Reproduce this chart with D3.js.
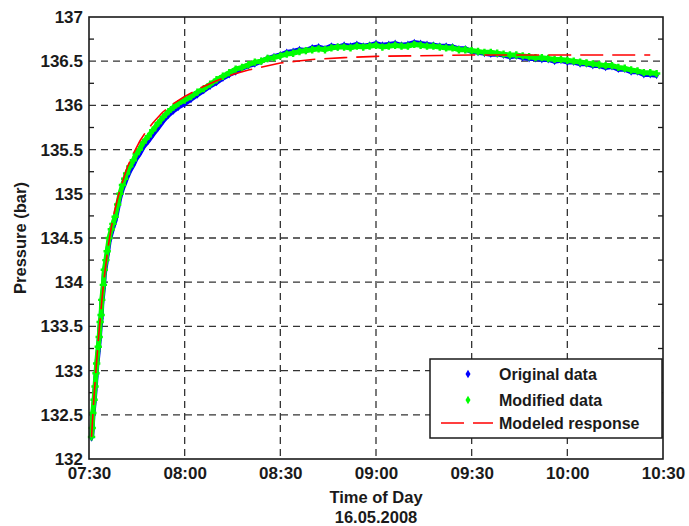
<!DOCTYPE html>
<html>
<head>
<meta charset="utf-8">
<script src="https://cdn.jsdelivr.net/npm/d3@7"></script>
<style>
  html, body { margin: 0; padding: 0; background: #fff; }
  svg { display: block; font-family: "Liberation Sans", Arial, sans-serif; }
</style>
</head>
<body>
<svg id="chart" width="689" height="526"></svg>
<script>
// ---- data (minutes after 07:30 on 16.05.2008) ----
const startTime = "2008-05-16T07:30:00";
const dataMinutes = [0.8,1.0,1.2,1.6,1.9,2.2,2.4,2.9,3.2,3.5,3.8,4.0,4.5,4.8,5.3,5.7,6.3,7.0,7.5,8.2,9.0,9.7,10.5,11.2,11.8,12.8,13.9,14.8,15.8,17.0,18.6,20.0,21.7,23.3,24.9,26.5,28.0,30,32,34,36,38,
  40,42,44,46,48,50,52,54,56,58,60,62,64,66,68,70,72,74,76,78,80,82,84,86,88,90,92,94,96,98,100,102,104,106,108,110,112,114,116,118,120,122,124,126,128,130,132,134,136,138,140,142,144,146,148,150,152,154,156,158,160,162,164,166,168,170,172,174,176,178];
const originalData = [132.24,132.33,132.49,132.64,132.78,132.93,133.04,133.22,133.34,133.50,133.59,133.75,133.93,134.09,134.21,134.31,134.46,134.56,134.62,134.70,134.84,134.96,135.06,135.12,135.18,135.26,135.33,135.40,135.45,135.53,135.60,135.67,135.75,135.83,135.89,135.94,135.98,136.02,136.07,136.12,136.17,136.22,
  136.26,136.31,136.35,136.38,136.42,136.45,136.47,136.50,136.53,136.55,136.57,136.60,136.61,136.63,136.62,136.65,136.66,136.64,136.67,136.66,136.68,136.67,136.69,136.67,136.68,136.70,136.68,136.69,136.70,136.68,136.69,136.71,136.70,136.69,136.68,136.67,136.67,136.66,136.64,136.64,136.61,136.60,136.59,136.58,136.58,136.57,136.55,136.56,136.54,136.53,136.53,136.52,136.52,136.50,136.51,136.49,136.49,136.47,136.47,136.45,136.45,136.43,136.44,136.41,136.41,136.38,136.38,136.35,136.35,136.34];
const modifiedData = [132.25,132.35,132.52,132.67,132.82,132.97,133.08,133.27,133.38,133.55,133.63,133.80,133.97,134.14,134.25,134.35,134.50,134.60,134.66,134.74,134.88,135.00,135.10,135.17,135.23,135.31,135.38,135.45,135.50,135.58,135.65,135.72,135.80,135.87,135.93,135.98,136.02,136.06,136.10,136.15,136.19,136.24,
  136.29,136.33,136.37,136.41,136.43,136.46,136.49,136.50,136.53,136.54,136.56,136.58,136.59,136.61,136.62,136.63,136.64,136.63,136.65,136.66,136.66,136.65,136.67,136.66,136.67,136.68,136.66,136.67,136.68,136.67,136.67,136.69,136.68,136.67,136.67,136.66,136.65,136.65,136.63,136.63,136.62,136.61,136.60,136.60,136.59,136.58,136.57,136.57,136.56,136.55,136.54,136.54,136.53,136.52,136.52,136.51,136.50,136.49,136.48,136.47,136.46,136.45,136.45,136.43,136.42,136.40,136.39,136.37,136.37,136.36];
const modelMinutes = [0.8,1.2,1.6,2,2.5,3,3.5,4,4.5,5,6,7,8,9,10,12,14,16,18,20,23,26,30,35,40,45,50,55,60,65,70,80,90,100,110,120,135,150,165,176];
const modelValues = [132.25,132.5,132.72,132.92,133.15,133.38,133.58,133.78,133.96,134.12,134.4,134.62,134.8,134.95,135.08,135.3,135.46,135.6,135.71,135.8,135.92,136.01,136.1,136.2,136.28,136.35,136.4,136.44,136.48,136.5,136.52,136.54,136.555,136.56,136.565,136.57,136.57,136.57,136.57,136.57];
const xTickLabels = ["07:30","08:00","08:30","09:00","09:30","10:00","10:30"];
const yTickValues = [132,132.5,133,133.5,134,134.5,135,135.5,136,136.5,137];
const yMinorTicks = [132.25,132.75,133.25,133.75,134.25,134.75,135.25,135.75,136.25,136.75];
const legendLabels = ["Original data","Modified data","Modeled response"];

// ---- layout ----
const svg = d3.select("#chart");
const L = 89, R = 663, T = 17, B = 459;
const base = new Date(startTime);
const toDate = m => new Date(base.getTime() + m * 60000);
const fmt = d3.timeFormat("%H:%M");
const x = d3.scaleTime().domain([toDate(0), toDate(180)]).range([L, R]);
const y = d3.scaleLinear().domain([132, 137]).range([B, T]);
const xTicks = xTickLabels.map(s => { const [h, m] = s.split(":").map(Number); return toDate((h - 7) * 60 + m - 30); });

const ink = "#1a1a1a";
// grid
const grid = svg.append("g");
grid.selectAll("line.vx").data(xTicks.slice(1, -1)).join("line")
  .attr("x1", d => x(d)).attr("x2", d => x(d)).attr("y1", T).attr("y2", B)
  .attr("stroke", "#333").attr("stroke-width", 1.3).attr("stroke-dasharray", "7,5");
grid.selectAll("line.hy").data(yTickValues.slice(1, -1)).join("line")
  .attr("x1", L).attr("x2", R).attr("y1", d => y(d)).attr("y2", d => y(d))
  .attr("stroke", "#333").attr("stroke-width", 1.3).attr("stroke-dasharray", "7,5");

// minor y ticks left & right
const mt = svg.append("g").attr("stroke", ink).attr("stroke-width", 1.3);
mt.selectAll("line.l").data(yMinorTicks).join("line").attr("x1", L).attr("x2", L + 5).attr("y1", d => y(d)).attr("y2", d => y(d));
mt.selectAll("line.r").data(yMinorTicks).join("line").attr("x1", R).attr("x2", R - 5).attr("y1", d => y(d)).attr("y2", d => y(d));

const orig = dataMinutes.map((m, i) => ({ t: toDate(m), v: originalData[i] }));
const modi = dataMinutes.map((m, i) => ({ t: toDate(m), v: modifiedData[i] }));
const model = modelMinutes.map((m, i) => ({ t: toDate(m), v: modelValues[i] }));
const line = d3.line().x(d => x(d.t)).y(d => y(d.v));

// original (blue)
svg.append("path").datum(orig).attr("d", line).attr("fill", "none").attr("stroke", "#0000ff").attr("stroke-width", 5);
svg.append("g").selectAll("path").data(orig).join("path")
  .attr("transform", d => `translate(${x(d.t)},${y(d.v)})`)
  .attr("d", d3.symbol(d3.symbolDiamond, 18)).attr("fill", "#0000ff");
// modified (green)
svg.append("path").datum(modi).attr("d", line).attr("fill", "none").attr("stroke", "#00ff00").attr("stroke-width", 5);
svg.append("g").selectAll("path").data(modi).join("path")
  .attr("transform", d => `translate(${x(d.t)},${y(d.v)})`)
  .attr("d", d3.symbol(d3.symbolCross, 30)).attr("fill", "#00ff00");
// model (red dashed)
svg.append("path").datum(model).attr("d", line).attr("fill", "none").attr("stroke", "#ff0000")
  .attr("stroke-width", 1.6).attr("stroke-dasharray", "23,9");

// frame
svg.append("rect").attr("x", L).attr("y", T).attr("width", R - L).attr("height", B - T)
  .attr("fill", "none").attr("stroke", ink).attr("stroke-width", 1.6);

// axes labels
const yAxis = d3.axisLeft(y).tickValues(yTickValues).tickFormat(d3.format("")).tickSize(0).tickPadding(6);
const gy = svg.append("g").attr("transform", `translate(${L},0)`).call(yAxis);
gy.select(".domain").remove();
gy.selectAll("text").attr("font-size", 17).attr("font-weight", "bold").attr("fill", ink)
  .attr("font-family", "Liberation Sans, Arial, sans-serif");

const xAxis = d3.axisBottom(x).tickValues(xTicks).tickFormat(fmt).tickSize(0).tickPadding(8);
const gx = svg.append("g").attr("transform", `translate(0,${B})`).call(xAxis);
gx.select(".domain").remove();
gx.selectAll("text").attr("font-size", 17).attr("font-weight", "bold").attr("fill", ink)
  .attr("font-family", "Liberation Sans, Arial, sans-serif");

svg.append("text").attr("x", (L + R) / 2).attr("y", 503).attr("text-anchor", "middle")
  .attr("font-size", 16.5).attr("font-weight", "bold").attr("fill", ink).text("Time of Day");
svg.append("text").attr("x", (L + R) / 2).attr("y", 523).attr("text-anchor", "middle")
  .attr("font-size", 16.5).attr("font-weight", "bold").attr("fill", ink).text("16.05.2008");
svg.append("text").attr("transform", `translate(26,${(T + B) / 2}) rotate(-90)`).attr("text-anchor", "middle")
  .attr("font-size", 16.5).attr("font-weight", "bold").attr("fill", ink).text("Pressure (bar)");

// legend
const lg = svg.append("g");
lg.append("rect").attr("x", 430).attr("y", 359).attr("width", 232).attr("height", 79)
  .attr("fill", "#fff").attr("stroke", ink).attr("stroke-width", 1.5);
const rows = [374, 400, 423];
lg.append("path").attr("transform", `translate(468,${rows[0]})`).attr("d", d3.symbol(d3.symbolDiamond, 22)).attr("fill", "#0000ff");
lg.append("path").attr("transform", `translate(468,${rows[1]})`).attr("d", d3.symbol(d3.symbolDiamond, 22)).attr("fill", "#00ff00");
lg.append("line").attr("x1", 441).attr("x2", 493).attr("y1", rows[2]).attr("y2", rows[2])
  .attr("stroke", "#ff0000").attr("stroke-width", 1.6).attr("stroke-dasharray", "23,9");
lg.selectAll("text").data(legendLabels).join("text")
  .attr("x", 499).attr("y", (d, i) => rows[i] + 6)
  .attr("font-size", 16).attr("font-weight", "bold").attr("fill", ink).text(d => d);
</script>
</body>
</html>
